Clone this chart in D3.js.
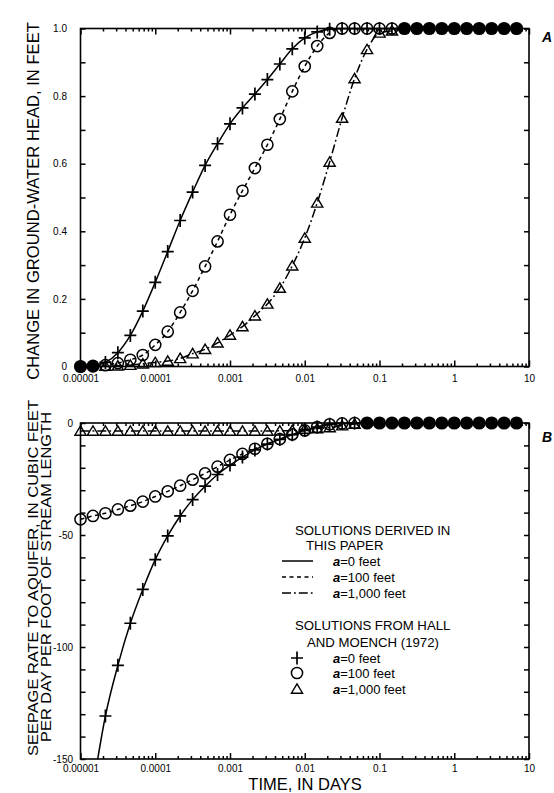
<!DOCTYPE html>
<html><head><meta charset="utf-8">
<script src="https://cdn.jsdelivr.net/npm/d3@7"></script>
<style>
body{margin:0;background:#fff}
svg{display:block}
text{font-family:"Liberation Sans",Arial,Helvetica,sans-serif;fill:#000}
</style>
</head><body><svg id="c" width="554" height="793"></svg>
<script>
// ---------- DATA ----------
const times = [
  1e-5,1.468e-5,2.154e-5,3.162e-5,4.642e-5,6.813e-5,
  1e-4,1.468e-4,2.154e-4,3.162e-4,4.642e-4,6.813e-4,
  1e-3,1.468e-3,2.154e-3,3.162e-3,4.642e-3,6.813e-3,
  1e-2,1.468e-2,2.154e-2,3.162e-2,4.642e-2,6.813e-2,
  1e-1,1.468e-1,2.154e-1,3.162e-1,4.642e-1,6.813e-1,
  1,1.468,2.154,3.162,4.642,6.813
];
const xTickValues = [1e-5,1e-4,1e-3,1e-2,1e-1,1,10];
const xTickLabels = ["0.00001","0.0001","0.001","0.01","0.1","1","10"];
const headTickValues = [0,0.2,0.4,0.6,0.8,1.0];
const headTickLabels = ["0","0.2","0.4","0.6","0.8","1.0"];
const seepTickValues = [0,-50,-100,-150];
const seepTickLabels = ["0","-50","-100","-150"];

// Panel A: change in ground-water head (feet)
const headA0 = [0,0.002,0.012,0.041,0.092,0.164,0.249,0.340,0.432,0.516,0.595,0.659,0.718,0.765,0.806,0.849,0.895,0.940,0.972,0.990,0.998,1,1,1,1,1,1,1,1,1,1,1,1,1,1,1];
const headA100 = [0,0.001,0.004,0.010,0.020,0.034,0.064,0.103,0.160,0.224,0.296,0.370,0.449,0.520,0.587,0.656,0.732,0.814,0.888,0.948,0.987,1,1,1,1,1,1,1,1,1,1,1,1,1,1,1];
const headA1000 = [0,0,0.001,0.002,0.004,0.008,0.012,0.016,0.024,0.038,0.051,0.070,0.093,0.118,0.150,0.185,0.232,0.298,0.380,0.484,0.605,0.735,0.852,0.938,0.987,0.993,1,1,1,1,1,1,1,1,1,1];

// Panel B: seepage rate to aquifer (cubic feet per day per foot)
const seepB0 = [null,-163,-130.8,-108.2,-89.4,-74.3,-61.0,-50.4,-41.5,-34.2,-28.2,-23.0,-18.8,-15.2,-12.0,-9.4,-7.3,-5.2,-3.3,-1.8,-0.6,-0.2,0,0,0,0,0,0,0,0,0,0,0,0,0,0];
const seepB100 = [-43.0,-41.5,-40.3,-38.6,-36.9,-35.1,-32.8,-30.5,-28.0,-25.3,-22.5,-19.5,-16.5,-13.8,-11.5,-9.3,-7.2,-5.1,-3.3,-1.8,-0.6,-0.2,0,0,0,0,0,0,0,0,0,0,0,0,0,0];
const seepB1000 = [-3.6,-3.6,-3.6,-3.6,-3.6,-3.6,-3.6,-3.6,-3.6,-3.6,-3.6,-3.6,-3.6,-3.6,-3.6,-3.6,-3.5,-3.3,-2.7,-2.5,-2.0,-1.2,-0.5,0,0,0,0,0,0,0,0,0,0,0,0,0];

const seriesNames = ["a=0 feet","a=100 feet","a=1,000 feet"];

// ---------- DRAW ----------
const svg = d3.select("#c");
const x = d3.scaleLog().domain([1e-5,10]).range([80.5,529]);
const yA = d3.scaleLinear().domain([0,1]).range([366.5,28.5]);
const yB = d3.scaleLinear().domain([-150,0]).range([759,423]);

const minorX = [];
for (let d=-5; d<=0; d++) for (let m=2; m<=9; m++) minorX.push(m*Math.pow(10,d));

const dashes = [null,"4,3.5","9,3,1.8,3"];
const plusPath = "M-6,0H6M0,-6.5V6.5";
const triPath = "M0,-5.2L5.6,4.2L-5.6,4.2Z";

function drawMarker(g, type, cx, cy){
  if (type===0) g.append("path").attr("d",plusPath).attr("transform",`translate(${cx},${cy})`).attr("stroke","#000").attr("stroke-width",1.7).attr("fill","none");
  else if (type===1) g.append("circle").attr("cx",cx).attr("cy",cy).attr("r",5.6).attr("stroke","#000").attr("stroke-width",1.5).attr("fill","none");
  else g.append("path").attr("d",triPath).attr("transform",`translate(${cx},${cy})`).attr("stroke","#000").attr("stroke-width",1.4).attr("fill","none");
}

function panel(id, y, yTicks, yMinor, yLabels, labelX, series){
  const [y0,y1] = y.range(); // bottom, top
  const g = svg.append("g");
  const clipId = "clip"+id;
  svg.append("clipPath").attr("id",clipId).append("rect")
    .attr("x",80.5).attr("y",y1).attr("width",529-80.5).attr("height",y0-y1);

  series.forEach((vals,i)=>{
    const line = d3.line().defined(d=>d[1]!==null)
      .x(d=>x(d[0])).y(d=>y(d[1])).curve(d3.curveMonotoneX);
    g.append("path").datum(times.map((t,k)=>[t,vals[k]]))
      .attr("d",line).attr("fill","none").attr("stroke","#000")
      .attr("stroke-width",1.5).attr("stroke-dasharray",dashes[i])
      .attr("clip-path",`url(#${clipId})`);
  });

  // markers (coincident markers print as a solid dot)
  const [dLo,dHi] = y.domain();
  const mg = g.append("g");
  times.forEach((t,k)=>{
    const vals = series.map(s=>s[k]);
    const inDom = vals.map(v=>v!==null && v>=dLo-1e-9 && v<=dHi+1e-9);
    const py = vals.map(v=>v===null?null:y(v));
    const allIn = inDom.every(b=>b);
    if (allIn && (d3.max(py)-d3.min(py))<1.0){
      mg.append("circle").attr("cx",x(t)).attr("cy",d3.mean(py)).attr("r",6.6).attr("fill","#000");
    } else {
      vals.forEach((v,i)=>{ if (inDom[i]) drawMarker(mg,i,x(t),y(v)); });
    }
  });

  g.append("rect").attr("x",80.5).attr("y",y1).attr("width",529-80.5).attr("height",y0-y1)
    .attr("fill","none").attr("stroke","#000").attr("stroke-width",1.6);

  const xb = g.append("g").attr("transform",`translate(0,${y0})`)
    .call(d3.axisBottom(x).tickValues(xTickValues).tickSize(-6).tickPadding(id==="A"?8.5:6)
      .tickFormat((d,i)=>xTickLabels[i]));
  const xbm = g.append("g").attr("transform",`translate(0,${y0})`)
    .call(d3.axisBottom(x).tickValues(minorX).tickSize(-3).tickFormat(""));
  const xt = g.append("g").attr("transform",`translate(0,${y1})`)
    .call(d3.axisTop(x).tickValues(xTickValues).tickSize(-6).tickFormat(""));
  const xtm = g.append("g").attr("transform",`translate(0,${y1})`)
    .call(d3.axisTop(x).tickValues(minorX).tickSize(-3).tickFormat(""));
  const yl = g.append("g").attr("transform",`translate(80.5,0)`)
    .call(d3.axisLeft(y).tickValues(yTicks).tickSize(-5).tickPadding(labelX)
      .tickFormat((d,i)=>yLabels[i]));
  const ylm = g.append("g").attr("transform",`translate(80.5,0)`)
    .call(d3.axisLeft(y).tickValues(yMinor).tickSize(-5).tickFormat(""));
  const yr = g.append("g").attr("transform",`translate(529,0)`)
    .call(d3.axisRight(y).tickValues(yTicks.concat(yMinor)).tickSize(-5).tickFormat(""));

  [xb,xbm,xt,xtm,yl,ylm,yr].forEach(a=>{
    a.select(".domain").remove();
    a.selectAll("line").attr("stroke","#000").attr("stroke-width",1.5);
    a.selectAll("text").attr("font-family","'Liberation Sans',Arial,sans-serif").attr("font-size",10).attr("fill","#000");
  });
  return g;
}

panel("A", yA, headTickValues, [0.1,0.3,0.5,0.7,0.9], headTickLabels, 13.5,
      [headA0, headA100, headA1000]);
panel("B", yB, seepTickValues, [-10,-20,-30,-40,-60,-70,-80,-90,-110,-120,-130,-140], seepTickLabels, 7.5,
      [seepB0, seepB100, seepB1000]);

// axis titles
svg.append("text").attr("transform","translate(39,201) rotate(-90)")
  .attr("text-anchor","middle").attr("font-size",16.6)
  .text("CHANGE IN GROUND-WATER HEAD, IN FEET");
svg.append("text").attr("transform","translate(37.5,578) rotate(-90)")
  .attr("text-anchor","middle").attr("font-size",14.4)
  .attr("textLength",356).attr("lengthAdjust","spacingAndGlyphs")
  .text("SEEPAGE RATE TO AQUIFER, IN CUBIC FEET");
svg.append("text").attr("transform","translate(50.5,577) rotate(-90)")
  .attr("text-anchor","middle").attr("font-size",14.4)
  .attr("textLength",330).attr("lengthAdjust","spacingAndGlyphs")
  .text("PER DAY PER FOOT OF STREAM LENGTH");
svg.append("text").attr("x",305).attr("y",790).attr("text-anchor","middle")
  .attr("font-size",16.5).text("TIME, IN DAYS");

// panel letters
svg.append("text").attr("x",542).attr("y",42).attr("font-size",14).attr("font-weight","bold").attr("font-style","italic").text("A");
svg.append("text").attr("x",542).attr("y",442).attr("font-size",14).attr("font-weight","bold").attr("font-style","italic").text("B");

// legend
const lg = svg.append("g");
lg.append("text").attr("x",295).attr("y",535).attr("font-size",13.2).text("SOLUTIONS DERIVED IN");
lg.append("text").attr("x",306).attr("y",550).attr("font-size",13.2).text("THIS PAPER");
const lineRows = [561,577,593];
lineRows.forEach((ry,i)=>{
  lg.append("line").attr("x1",282).attr("x2",313).attr("y1",ry).attr("y2",ry)
    .attr("stroke","#000").attr("stroke-width",1.5).attr("stroke-dasharray",dashes[i]);
});
lg.append("text").attr("x",295).attr("y",630).attr("font-size",13.2).text("SOLUTIONS FROM HALL");
lg.append("text").attr("x",307).attr("y",647).attr("font-size",13.2).text("AND MOENCH (1972)");
const markRows = [658,673,689];
markRows.forEach((ry,i)=>drawMarker(lg,i,297,ry));
function seriesLabel(ry,name){
  const t = lg.append("text").attr("x",333).attr("y",ry+4.5).attr("font-size",13);
  t.append("tspan").attr("font-style","italic").attr("font-weight","bold").text(name.slice(0,1));
  t.append("tspan").text(name.slice(1));
}
lineRows.forEach((ry,i)=>seriesLabel(ry,seriesNames[i]));
markRows.forEach((ry,i)=>seriesLabel(ry,seriesNames[i]));
</script>
</body></html>
